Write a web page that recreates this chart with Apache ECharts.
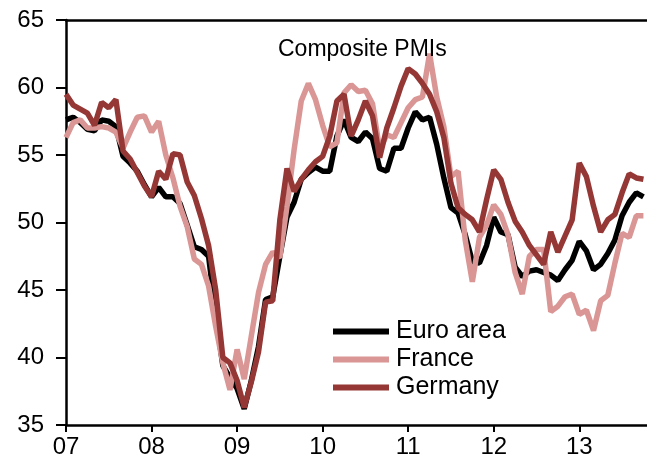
<!DOCTYPE html>
<html>
<head>
<meta charset="utf-8">
<script src="https://cdn.jsdelivr.net/npm/echarts@6/dist/echarts.min.js"></script>
<style>
  html, body { margin: 0; padding: 0; background: #fff; }
  #chart { width: 647px; height: 459px; }
</style>
</head>
<body>
<div id="chart"></div>
<script>
// monthly composite PMIs, Jan 2007 .. Oct 2013
var yearLabels = ['07', '08', '09', '10', '11', '12', '13'];

var euroArea = [
  57.6, 57.8, 57.4, 56.9, 56.8, 57.6, 57.5, 57.1, 54.9, 54.4, 53.8, 52.8,
  51.9, 52.6, 51.9, 51.9, 51.4, 49.8, 48.2, 48.0, 47.5, 43.2, 39.4, 38.5,
  37.7, 36.2, 38.3, 40.8, 44.3, 44.5, 47.5, 50.4, 51.5, 53.2, 53.7, 54.1,
  53.8, 53.8, 56.4, 57.6, 56.3, 56.0, 56.7, 56.2, 54.0, 53.8, 55.5, 55.5,
  57.0, 58.2, 57.6, 57.8, 55.8, 53.3, 51.1, 50.7, 49.1, 47.1, 47.0, 48.3,
  50.4, 49.3, 49.1, 46.7, 46.0, 46.4, 46.5, 46.3, 46.1, 45.7, 46.5, 47.2,
  48.6, 47.9, 46.5, 46.9, 47.7, 48.7, 50.5, 51.5, 52.2, 51.9
];

var france = [
  56.3, 57.4, 57.6, 57.0, 57.0, 57.1, 57.0, 56.7, 55.5, 56.7, 57.8, 57.9,
  56.7, 57.5, 55.0, 53.3, 51.2, 49.7, 47.3, 46.9, 45.3, 42.3, 39.6, 37.6,
  40.6, 38.4, 41.6, 44.8, 46.9, 47.8, 47.4, 51.2, 55.4, 59.0, 60.3, 59.1,
  57.2, 55.6, 55.9, 59.6, 60.2, 59.7, 59.8, 58.8, 55.4, 56.5, 56.3, 57.4,
  58.5, 59.1, 59.3, 62.5, 59.3, 57.1, 53.4, 53.8, 48.7, 45.6, 48.9, 49.8,
  51.3, 50.6, 49.1, 46.3, 44.7, 47.5, 48.0, 48.0, 43.4, 43.8, 44.5, 44.7,
  43.2, 43.5, 42.0, 44.2, 44.6, 47.0, 49.2, 48.9, 50.5, 50.5
];

var germany = [
  59.5, 58.7, 58.4, 58.1, 57.2, 58.9, 58.5, 59.1, 55.3, 54.7, 53.7, 52.7,
  51.9, 53.8, 53.2, 55.1, 55.0, 53.0, 52.0, 50.3, 48.3, 45.0, 40.0, 39.6,
  38.3, 36.3, 38.2, 40.4, 44.1, 44.2, 50.2, 54.0, 52.3, 53.2, 53.9, 54.5,
  54.9, 56.4, 59.0, 59.5, 56.4, 57.6, 59.0, 57.9, 54.8, 57.0, 58.5, 60.1,
  61.4, 61.0, 60.3, 59.5, 58.2, 56.3, 52.9, 51.1, 50.6, 50.2, 49.3, 51.7,
  53.9, 53.2, 51.5, 50.1, 49.3, 48.3, 47.6, 46.9, 49.3, 47.8, 49.0, 50.2,
  54.4, 53.4, 51.2, 49.3, 50.2, 50.6, 52.2, 53.6, 53.3, 53.2
];

function toPoints(values) {
  return values.map(function (v, i) { return [i, v]; });
}

var font = 'Liberation Sans, Arial, sans-serif';
var chart = echarts.init(document.getElementById('chart'), null, { renderer: 'canvas' });

var option = {
  backgroundColor: '#ffffff',
  animation: false,
  title: {
    text: 'Composite PMIs',
    left: 273,
    top: 33,
    textStyle: { fontFamily: font, fontSize: 23, fontWeight: 'normal', color: '#000' }
  },
  legend: {
    orient: 'vertical',
    left: 328,
    top: 314,
    itemWidth: 56,
    itemHeight: 6,
    itemGap: 3,
    icon: 'rect',
    textStyle: { fontFamily: font, fontSize: 25, color: '#000', padding: [0, 0, 0, 2] },
    data: ['Euro area', 'France', 'Germany']
  },
  grid: { left: 66, right: 0, top: 20, bottom: 33, containLabel: false },
  xAxis: [{
    type: 'value',
    min: 0,
    max: 81.5,
    interval: 12,
    axisLine: { lineStyle: { color: '#000', width: 2.5 } },
    axisTick: { inside: false, length: 7, lineStyle: { color: '#000', width: 2 } },
    splitLine: { show: false },
    axisLabel: {
      showMaxLabel: false,
      margin: 10,
      fontFamily: font,
      fontSize: 24,
      color: '#000',
      formatter: function (v) {
        return v % 12 === 0 ? yearLabels[v / 12] : '';
      }
    }
  }, {
    type: 'value',
    position: 'top',
    min: 0,
    max: 81.5,
    axisLine: { show: true, lineStyle: { color: '#000', width: 2.5 } },
    axisTick: { show: false },
    axisLabel: { show: false },
    splitLine: { show: false }
  }],
  yAxis: {
    type: 'value',
    min: 35,
    max: 65,
    interval: 5,
    axisLine: { show: true, lineStyle: { color: '#000', width: 2.5 } },
    axisTick: { show: true, inside: false, length: 10, lineStyle: { color: '#000', width: 2 } },
    splitLine: { show: false },
    axisLabel: { margin: 22, fontFamily: font, fontSize: 24, color: '#000' }
  },
  series: [
    {
      name: 'Euro area',
      type: 'line',
      data: toPoints(euroArea),
      showSymbol: false,
      color: '#000000',
      lineStyle: { width: 5.5, color: '#000000' }
    },
    {
      name: 'France',
      type: 'line',
      data: toPoints(france),
      showSymbol: false,
      color: '#d99694',
      lineStyle: { width: 5.5, color: '#d99694' }
    },
    {
      name: 'Germany',
      type: 'line',
      data: toPoints(germany),
      showSymbol: false,
      color: '#953735',
      lineStyle: { width: 5.5, color: '#953735' }
    }
  ]
};

chart.setOption(option);
</script>
</body>
</html>
